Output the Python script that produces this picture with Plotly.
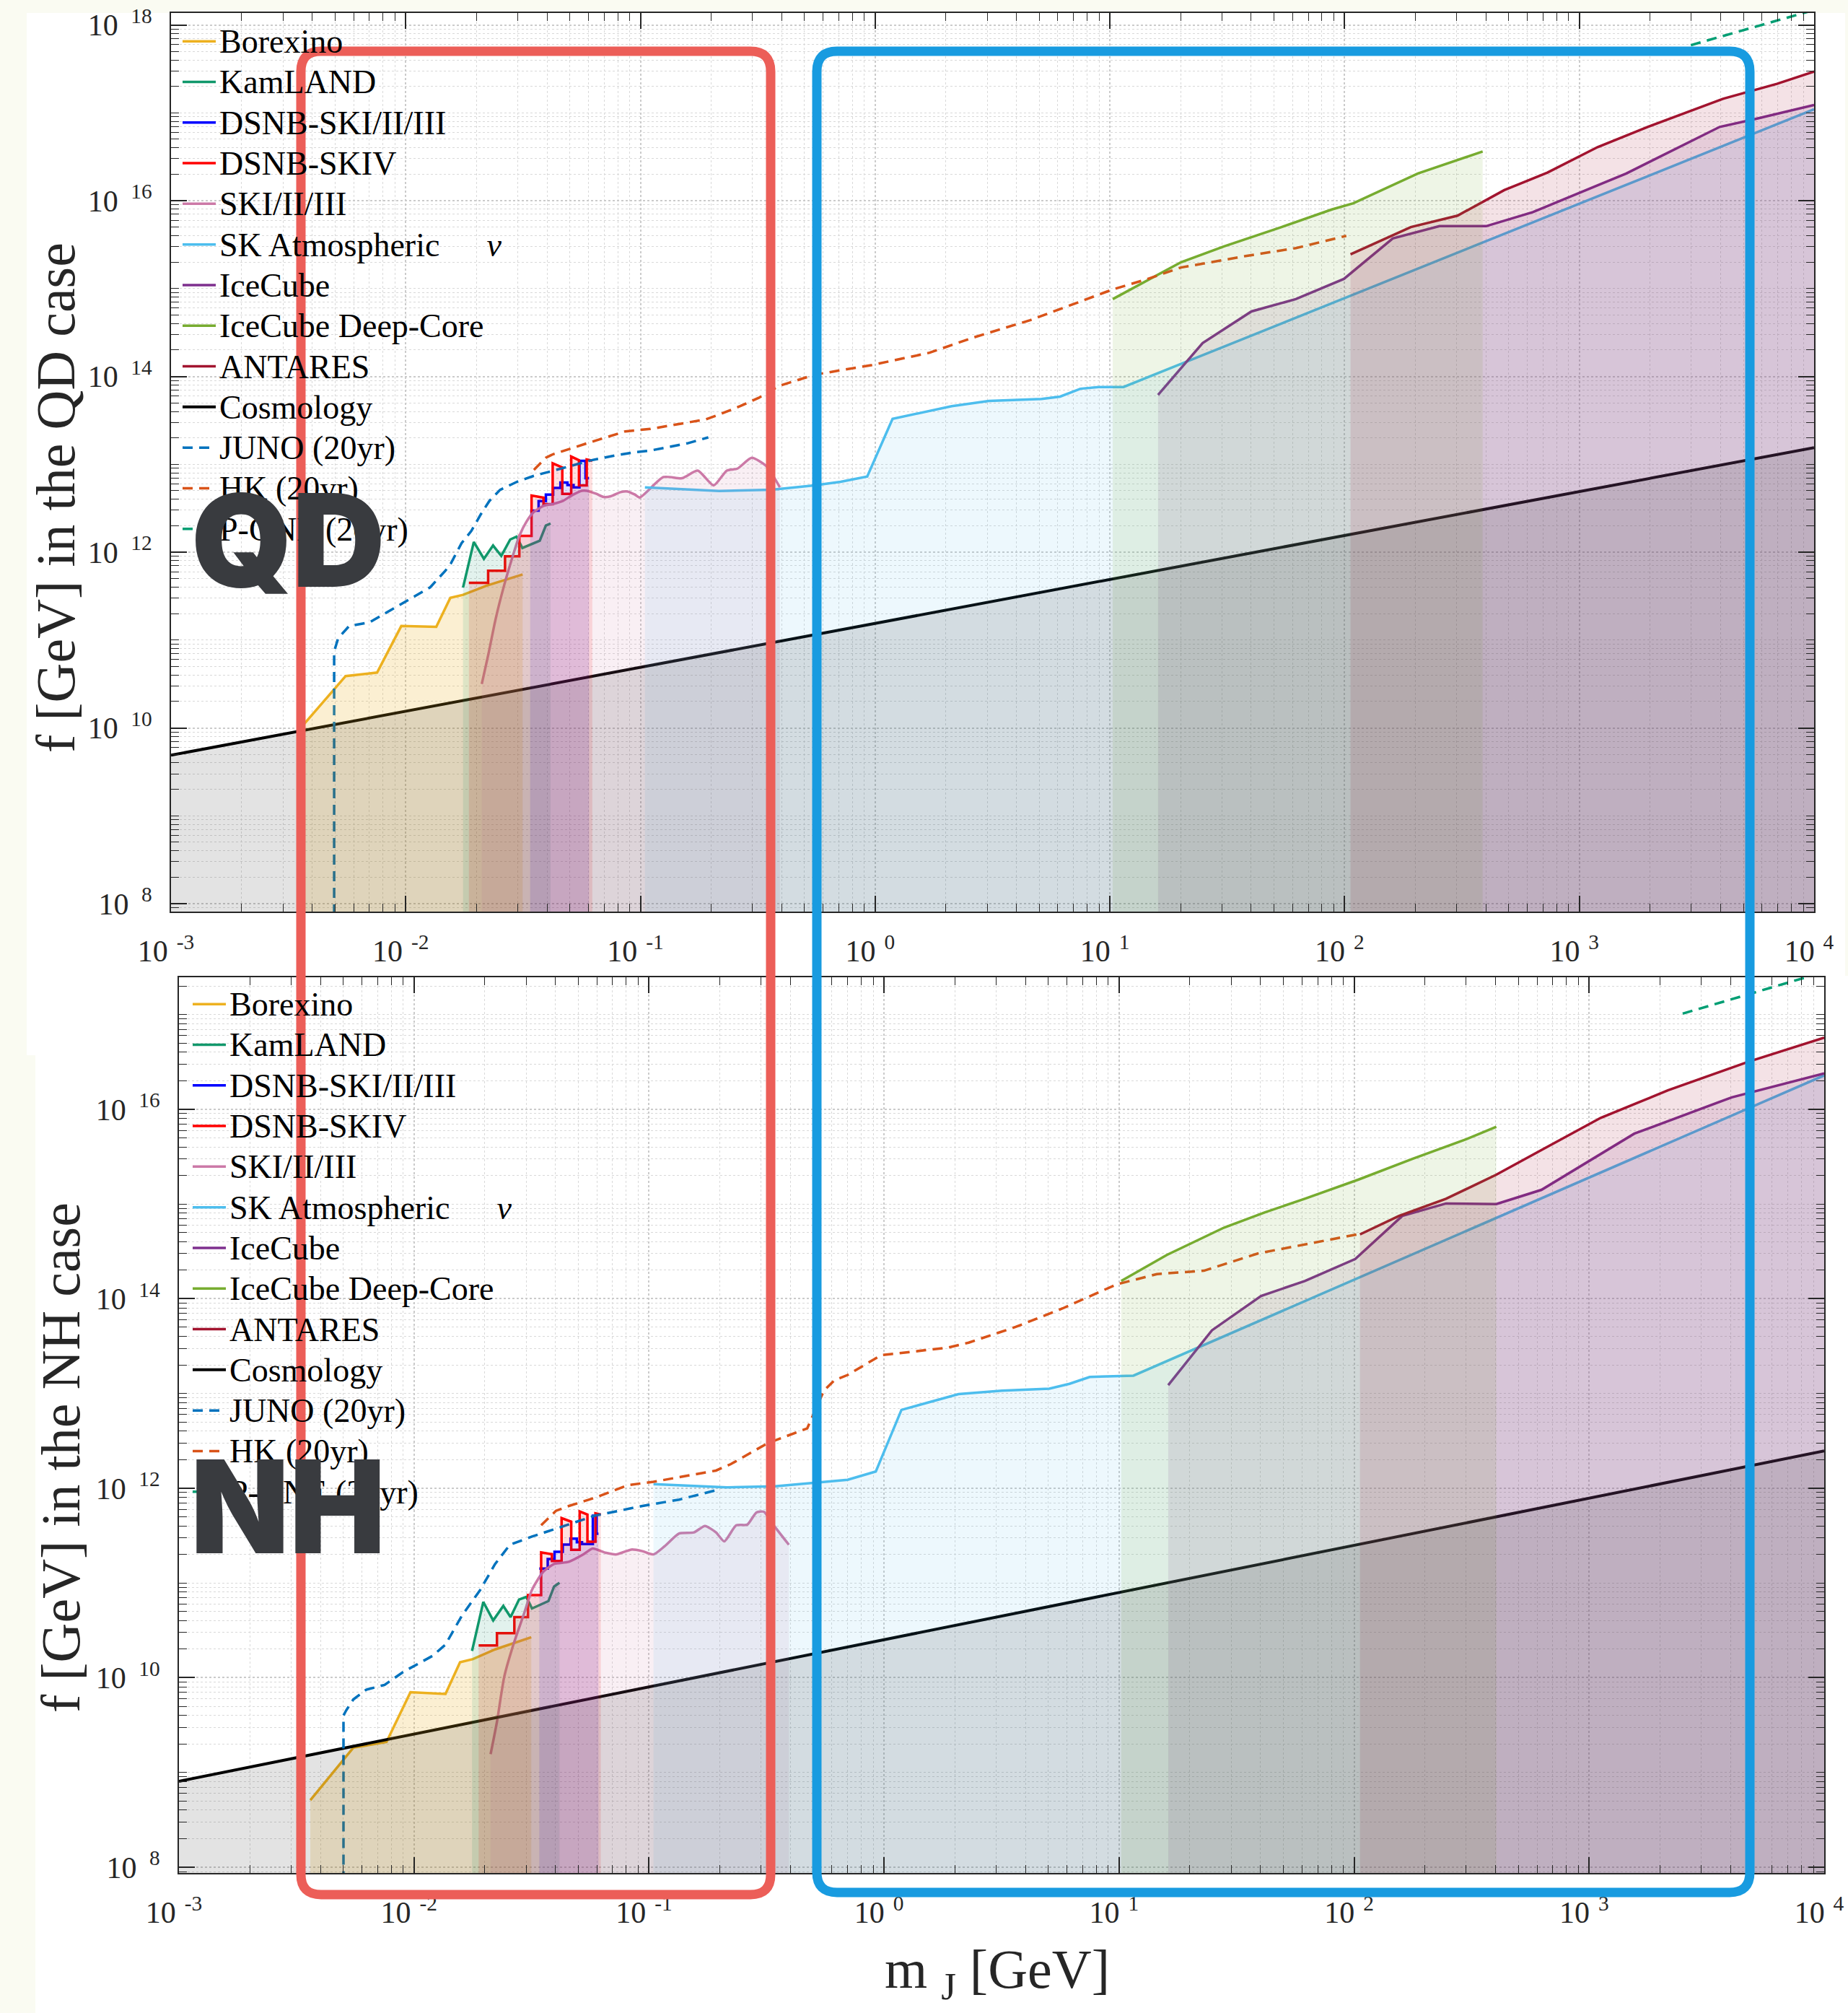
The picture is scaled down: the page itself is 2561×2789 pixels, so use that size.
import numpy as np
import plotly.graph_objects as go

# ---------------------------------------------------------------------------
# Data: log10(m_J / GeV) and log10(f / GeV)
# ---------------------------------------------------------------------------
# ---- QD case (upper panel) ----
qd_borexino_lm = [-2.441, -2.256, -2.122, -2.019, -1.870, -1.810, -1.756, -1.655, -1.502]
qd_borexino_lf = [10.02, 10.59, 10.63, 11.16, 11.15, 11.48, 11.515, 11.62, 11.747]

qd_kamland_lm = [-1.756, -1.710, -1.667, -1.628, -1.593, -1.555, -1.528, -1.503, -1.429, -1.403, -1.383]
qd_kamland_lf = [11.597, 12.117, 11.925, 12.076, 11.958, 12.144, 12.177, 12.048, 12.130, 12.303, 12.327]

qd_dsnb123_lm = [-1.470, -1.434, -1.434, -1.403, -1.403, -1.372, -1.372, -1.341, -1.341, -1.311,
                 -1.311, -1.285, -1.285, -1.260, -1.260, -1.234, -1.234, -1.219]
qd_dsnb123_lf = [12.472, 12.472, 12.582, 12.582, 12.656, 12.656, 12.732, 12.732, 12.792, 12.792,
                 12.765, 12.765, 12.738, 12.738, 13.039, 13.039, 12.842, 12.842]

qd_dsnb4_lm = [-1.731, -1.649, -1.649, -1.577, -1.577, -1.516, -1.516, -1.464, -1.464, -1.413, -1.413,
               -1.374, -1.374, -1.333, -1.333, -1.295, -1.295, -1.262, -1.262, -1.229, -1.229, -1.205]
qd_dsnb4_lf = [11.652, 11.652, 11.789, 11.789, 11.953, 11.953, 12.185, 12.185, 12.645, 12.620, 12.546,
               12.546, 13.011, 12.965, 12.664, 12.664, 13.088, 13.047, 12.760, 12.760, 13.055, 13.041]

qd_ski_lm = [-1.676, -1.647, -1.618, -1.582, -1.546, -1.516, -1.485, -1.454, -1.413, -1.372,
             -1.331, -1.290, -1.250, -1.229, -1.188, -1.157, -1.126, -1.085, -1.055, -1.024,
             -1.003, -0.902, -0.823, -0.756, -0.688, -0.632, -0.587, -0.526, -0.463, -0.406]
qd_ski_lf = [10.50, 10.85, 11.228, 11.611, 11.939, 12.185, 12.350, 12.459, 12.527, 12.549,
             12.582, 12.650, 12.699, 12.699, 12.664, 12.628, 12.637, 12.683, 12.691, 12.656,
             12.623, 12.855, 12.842, 12.929, 12.760, 12.929, 12.951, 13.074, 12.978, 12.738]

qd_skatm_lm = [-0.981, -0.665, -0.440, -0.260, -0.147, -0.034, 0.074, 0.326, 0.484, 0.709, 0.788,
               0.874, 0.951, 1.058, 4.0]
qd_skatm_lf = [12.738, 12.696, 12.710, 12.760, 12.801, 12.861, 13.517, 13.662, 13.722, 13.744, 13.771,
               13.86, 13.88, 13.88, 17.04]

qd_icecube_lm = [1.205, 1.395, 1.603, 1.792, 1.997, 2.205, 2.404, 2.603, 2.802, 3.2, 3.598, 3.751, 4.0]
qd_icecube_lf = [13.79, 14.38, 14.74, 14.88, 15.11, 15.57, 15.71, 15.71, 15.87, 16.31, 16.84, 16.93, 17.09]

qd_deepcore_lm = [1.012, 1.150, 1.303, 1.486, 1.731, 1.945, 2.037, 2.312, 2.588]
qd_deepcore_lf = [14.88, 15.08, 15.30, 15.48, 15.70, 15.90, 15.97, 16.31, 16.56]

qd_antares_lm = [2.025, 2.282, 2.481, 2.68, 2.864, 3.078, 3.291, 3.612, 3.842, 4.0]
qd_antares_lf = [15.39, 15.70, 15.83, 16.12, 16.32, 16.61, 16.84, 17.16, 17.33, 17.47]

qd_cosmo_lm = [-3.0, 4.0]
qd_cosmo_lf = [9.69, 13.19]

qd_juno_lm = [-2.305, -2.305, -2.288, -2.241, -2.155, -2.025, -1.896, -1.831, -1.808, -1.762, -1.721,
              -1.680, -1.644, -1.598, -1.526, -1.454, -1.383, -1.301, -1.208, -1.106, -1.024, -0.959,
              -0.801, -0.711]
qd_juno_lf = [7.5, 10.87, 11.02, 11.16, 11.20, 11.40, 11.60, 11.79, 11.871, 12.103, 12.240,
              12.432, 12.582, 12.710, 12.801, 12.869, 12.918, 12.978, 13.047, 13.101, 13.137, 13.156,
              13.238, 13.306]

qd_hk_lm = [-1.454, -1.403, -1.372, -1.311, -1.229, -1.147, -1.065, -0.959, -0.722, -0.665, -0.575,
            -0.496, -0.411, -0.258, -0.013, 0.232, 0.415, 0.660, 1.012, 1.150, 1.303, 1.578, 1.792, 2.007]
qd_hk_lf = [12.937, 13.074, 13.115, 13.170, 13.238, 13.306, 13.375, 13.402, 13.511, 13.566, 13.662,
            13.757, 13.89, 14.02, 14.13, 14.27, 14.44, 14.64, 14.99, 15.10, 15.24, 15.37, 15.46, 15.60]

qd_pone_lm = [3.475, 4.0]
qd_pone_lf = [17.77, 18.17]

# ---- NH case (lower panel) ----
nh_borexino_lm = [-2.441, -2.258, -2.117, -2.015, -1.866, -1.804, -1.749, -1.655, -1.501]
nh_borexino_lf = [8.707, 9.262, 9.322, 9.847, 9.829, 10.163, 10.197, 10.299, 10.428]

nh_kamland_lm = [-1.753, -1.705, -1.663, -1.620, -1.589, -1.553, -1.522, -1.498, -1.428, -1.404, -1.381]
nh_kamland_lf = [10.282, 10.800, 10.605, 10.758, 10.640, 10.826, 10.853, 10.731, 10.809, 10.962, 11.003]

nh_dsnb123_lm = [-1.467, -1.431, -1.431, -1.402, -1.402, -1.367, -1.367, -1.334, -1.334, -1.307,
                 -1.307, -1.285, -1.285, -1.239, -1.239, -1.223, -1.223, -1.215]
nh_dsnb123_lf = [11.152, 11.152, 11.253, 11.253, 11.329, 11.329, 11.406, 11.406, 11.469, 11.469,
                 11.431, 11.431, 11.411, 11.411, 11.710, 11.710, 11.520, 11.520]

nh_dsnb4_lm = [-1.725, -1.647, -1.647, -1.573, -1.573, -1.515, -1.515, -1.459, -1.459, -1.413, -1.413,
               -1.372, -1.372, -1.331, -1.331, -1.295, -1.295, -1.262, -1.262, -1.228, -1.228, -1.205]
nh_dsnb4_lf = [10.340, 10.340, 10.470, 10.470, 10.640, 10.640, 10.872, 10.872, 11.324, 11.304, 11.233,
               11.233, 11.685, 11.647, 11.350, 11.350, 11.756, 11.723, 11.436, 11.436, 11.736, 11.723]

nh_ski_lm = [-1.674, -1.647, -1.616, -1.577, -1.530, -1.498, -1.451, -1.404, -1.341, -1.279,
             -1.240, -1.185, -1.138, -1.075, -1.028, -0.981, -0.934, -0.872, -0.809, -0.762,
             -0.715, -0.680, -0.629, -0.582, -0.543, -0.511, -0.480, -0.405]
nh_ski_lf = [9.193, 9.534, 10.010, 10.350, 10.690, 10.928, 11.116, 11.200, 11.224, 11.302,
             11.364, 11.320, 11.302, 11.353, 11.336, 11.302, 11.387, 11.523, 11.534, 11.602,
             11.534, 11.439, 11.609, 11.616, 11.745, 11.752, 11.643, 11.404]

nh_skatm_lm = [-0.981, -0.668, -0.464, -0.155, -0.035, 0.074, 0.317, 0.502, 0.703, 0.789, 0.875, 1.061, 4.0]
nh_skatm_lf = [12.044, 12.010, 12.02, 12.090, 12.177, 12.827, 12.994, 13.030, 13.051, 13.103, 13.175,
               13.189, 16.358]

nh_icecube_lm = [1.209, 1.395, 1.604, 1.790, 2.005, 2.205, 2.391, 2.605, 2.797, 3.192, 3.607, 4.0]
nh_icecube_lf = [13.088, 13.667, 14.029, 14.188, 14.420, 14.875, 15.006, 15.0, 15.150, 15.743, 16.127, 16.38]

nh_deepcore_lm = [1.009, 1.203, 1.447, 1.619, 1.790, 2.019, 2.248, 2.477, 2.605]
nh_deepcore_lf = [14.188, 14.463, 14.752, 14.911, 15.056, 15.259, 15.476, 15.685, 15.816]

nh_antares_lm = [2.025, 2.191, 2.391, 2.605, 2.792, 3.049, 3.335, 3.679, 4.0]
nh_antares_lf = [14.680, 14.875, 15.056, 15.310, 15.563, 15.910, 16.200, 16.504, 16.757]

nh_cosmo_lm = [-3.0, 4.0]
nh_cosmo_lf = [8.907, 12.394]

nh_juno_lm = [-2.300, -2.300, -2.289, -2.258, -2.203, -2.125, -2.046, -1.921, -1.866, -1.796, -1.718,
              -1.655, -1.592, -1.498, -1.373, -1.232, -1.028, -0.872, -0.699]
nh_juno_lf = [7.5, 9.601, 9.653, 9.771, 9.874, 9.925, 10.061, 10.231, 10.350, 10.656, 10.928,
              11.200, 11.404, 11.490, 11.592, 11.710, 11.813, 11.880, 11.989]

nh_hk_lm = [-1.459, -1.396, -1.341, -1.232, -1.088, -0.981, -0.715, -0.652, -0.495, -0.384, -0.327,
            -0.256, -0.212, -0.155, -0.012, 0.074, 0.274, 0.360, 0.560, 0.760, 0.989, 1.161, 1.361,
            1.590, 1.790, 2.013]
nh_hk_lf = [11.610, 11.762, 11.813, 11.898, 12.034, 12.068, 12.187, 12.255, 12.476, 12.582, 12.632,
            13.030, 13.139, 13.196, 13.406, 13.428, 13.486, 13.537, 13.703, 13.899, 14.152, 14.261, 14.296,
            14.478, 14.572, 14.680]

nh_pone_lm = [3.398, 4.0]
nh_pone_lf = [17.01, 17.45]

# legend labels and tick labels
series_names = ["Borexino", "KamLAND", "DSNB-SKI/II/III", "DSNB-SKIV", "SKI/II/III",
                "SK Atmospheric\u00a0\u00a0\u00a0\u00a0\u00a0\u2006<i>\u03bd</i>", "IceCube",
                "IceCube Deep-Core", "ANTARES", "Cosmology", "JUNO (20yr)", "HK (20yr)", "P-ONE (20yr)"]
x_tick_exponents = [-3, -2, -1, 0, 1, 2, 3, 4]
qd_y_tick_exponents = [8, 10, 12, 14, 16, 18]
nh_y_tick_exponents = [8, 10, 12, 14, 16]

# ---------------------------------------------------------------------------
# Styles
# ---------------------------------------------------------------------------
W, H = 2561, 2789
series_colors = ["#EDB120", "#11986B", "#0000FF", "#FF0000", "#CC79A7", "#4DBEEE", "#7E2F8E",
                 "#77AC30", "#A2142F", "#000000", "#0072BD", "#D95319", "#009E73"]
series_dash = ["solid"] * 10 + ["14px,9px"] * 3
series_fill_alpha = [0.2, 0.12, 0.12, 0.12, 0.12, 0.1, 0.12, 0.12, 0.12, 0.11, None, None, None]
FLOOR = 1e6


def px(v):
    return v / W


def py(v):
    return 1 - v / H


def rgba(hexc, a):
    h = hexc.lstrip("#")
    r, g, b = int(h[0:2], 16), int(h[2:4], 16), int(h[4:6], 16)
    return f"rgba({r},{g},{b},{a})"


def legend_label(s):
    # glyphs a bit larger than the row pitch implies, as in the original legend
    return f'<span style="font-size:46px">{s}</span>'


panels = [
    dict(xa="x", ya="y", legend="legend", data=[
        (qd_borexino_lm, qd_borexino_lf), (qd_kamland_lm, qd_kamland_lf),
        (qd_dsnb123_lm, qd_dsnb123_lf), (qd_dsnb4_lm, qd_dsnb4_lf), (qd_ski_lm, qd_ski_lf),
        (qd_skatm_lm, qd_skatm_lf), (qd_icecube_lm, qd_icecube_lf), (qd_deepcore_lm, qd_deepcore_lf),
        (qd_antares_lm, qd_antares_lf), (qd_cosmo_lm, qd_cosmo_lf), (qd_juno_lm, qd_juno_lf),
        (qd_hk_lm, qd_hk_lf), (qd_pone_lm, qd_pone_lf)]),
    dict(xa="x2", ya="y2", legend="legend2", data=[
        (nh_borexino_lm, nh_borexino_lf), (nh_kamland_lm, nh_kamland_lf),
        (nh_dsnb123_lm, nh_dsnb123_lf), (nh_dsnb4_lm, nh_dsnb4_lf), (nh_ski_lm, nh_ski_lf),
        (nh_skatm_lm, nh_skatm_lf), (nh_icecube_lm, nh_icecube_lf), (nh_deepcore_lm, nh_deepcore_lf),
        (nh_antares_lm, nh_antares_lf), (nh_cosmo_lm, nh_cosmo_lf), (nh_juno_lm, nh_juno_lf),
        (nh_hk_lm, nh_hk_lf), (nh_pone_lm, nh_pone_lf)]),
]

fig = go.Figure()
for p in panels:
    # lines (legend order)
    for i, (lm, lf) in enumerate(p["data"]):
        x = np.power(10.0, np.array(lm))
        y = np.power(10.0, np.array(lf))
        line = dict(color=series_colors[i], width=4 if i == 9 else 3.5, dash=series_dash[i])
        if i == 4:
            line.update(shape="spline", smoothing=0.6)
        fig.add_trace(go.Scatter(
            x=x, y=y, mode="lines", name=legend_label(series_names[i]), line=line,
            xaxis=p["xa"], yaxis=p["ya"], legend=p["legend"], hoverinfo="skip"))
    # translucent regions drawn over the lines, as in the original
    for i, (lm, lf) in enumerate(p["data"]):
        if series_fill_alpha[i] is None:
            continue
        x = np.power(10.0, np.array(lm))
        y = np.power(10.0, np.array(lf))
        fx = np.concatenate([[x[0]], x, [x[-1]]])
        fy = np.concatenate([[FLOOR], y, [FLOOR]])
        fig.add_trace(go.Scatter(
            x=fx, y=fy, mode="lines", fill="toself",
            fillcolor=rgba(series_colors[i], series_fill_alpha[i]),
            line=dict(width=0, color="rgba(0,0,0,0)"), showlegend=False,
            xaxis=p["xa"], yaxis=p["ya"], hoverinfo="skip"))

# ---------------------------------------------------------------------------
# Axes
# ---------------------------------------------------------------------------
AX_COLOR = "#262626"
tick_font = dict(family="Liberation Serif", size=42, color=AX_COLOR)


def x_label(e):
    return f"10\u2009\u200a<sup>{e}</sup>"


def y_label(e):
    return f"10\u00a0\u2006<sup>{e}</sup>"


def axis_common():
    return dict(type="log", showline=True, linecolor=AX_COLOR, linewidth=2, mirror="allticks",
                ticks="inside", ticklen=22, tickwidth=1.6, tickcolor=AX_COLOR,
                showgrid=True, gridcolor="#cbcbcb", griddash="dot", gridwidth=1.5,
                zeroline=False, tickfont=tick_font, automargin=False, layer="above traces",
                ticklabeloverflow="allow")


x_major = [10.0 ** e for e in x_tick_exponents]
x_minor = [k * 10.0 ** e for e in range(-3, 4) for k in range(2, 10)]


def y_minor(lo, hi, majors):
    return [k * 10.0 ** e for e in range(lo, hi) for k in range(1, 10) if not (k == 1 and e in majors)]


minor_style = dict(ticks="inside", ticklen=11, tickwidth=1.4, tickcolor=AX_COLOR,
                   showgrid=True, gridcolor="#d9d9d9", griddash="dot", gridwidth=1.2)

fig.update_layout(
    template="none",
    xaxis=dict(**axis_common(), domain=[px(237), px(2514)], range=[-3, 4], anchor="y",
               tickvals=x_major, ticktext=[x_label(e) for e in x_tick_exponents],
               ticklabelstandoff=17, ticklabelshift=-7, minor=dict(tickvals=x_minor, **minor_style)),
    yaxis=dict(**axis_common(), domain=[py(1263), py(18)], range=[7.91, 18.136], anchor="x",
               tickvals=[10.0 ** e for e in qd_y_tick_exponents],
               ticktext=[y_label(e) for e in qd_y_tick_exponents], ticklabelstandoff=16,
               minor=dict(tickvals=y_minor(7, 19, qd_y_tick_exponents), **minor_style)),
    xaxis2=dict(**axis_common(), domain=[px(248), px(2528)], range=[-3, 4], anchor="y2",
                tickvals=x_major, ticktext=[x_label(e) for e in x_tick_exponents],
                ticklabelstandoff=17, ticklabelshift=-7, minor=dict(tickvals=x_minor, **minor_style)),
    yaxis2=dict(**axis_common(), domain=[py(2595), py(1354)], range=[7.939, 17.394], anchor="x2",
                tickvals=[10.0 ** e for e in nh_y_tick_exponents],
                ticktext=[y_label(e) for e in nh_y_tick_exponents], ticklabelstandoff=16,
                minor=dict(tickvals=y_minor(7, 18, nh_y_tick_exponents), **minor_style)),
)

legend_style = dict(xanchor="left", yanchor="top", bgcolor="rgba(0,0,0,0)", borderwidth=0,
                    font=dict(family="Liberation Serif", size=41, color="#000000"),
                    itemwidth=46, tracegroupgap=0)
fig.update_layout(
    width=W, height=H, autosize=False,
    margin=dict(l=0, r=0, t=0, b=0, pad=0, autoexpand=False),
    paper_bgcolor="#fafbf2", plot_bgcolor="rgba(0,0,0,0)",
    font=dict(family="Liberation Serif", color=AX_COLOR),
    showlegend=True,
    legend=dict(x=px(248), y=py(24), **legend_style),
    legend2=dict(x=px(262), y=py(1358), **legend_style),
)

# ---------------------------------------------------------------------------
# Background panels, highlight boxes, titles
# ---------------------------------------------------------------------------
shapes = [
    dict(type="rect", xref="paper", yref="paper", x0=px(37), x1=px(2557), y0=py(1462), y1=py(18),
         fillcolor="white", line=dict(width=0), layer="below"),
    dict(type="rect", xref="paper", yref="paper", x0=px(49), x1=1.0, y0=0.0, y1=py(1352),
         fillcolor="white", line=dict(width=0), layer="below"),
]


def rounded_box(x0, y0, x1, y1, r):
    a, b, c, d = px(x0), py(y0), px(x1), py(y1)
    rx, ry = r / W, r / H
    return (f"M {a + rx},{b} L {c - rx},{b} Q {c},{b} {c},{b - ry} L {c},{d + ry} "
            f"Q {c},{d} {c - rx},{d} L {a + rx},{d} Q {a},{d} {a},{d + ry} L {a},{b - ry} "
            f"Q {a},{b} {a + rx},{b} Z")


shapes.append(dict(type="path", xref="paper", yref="paper", path=rounded_box(417, 71, 1068, 2625, 28),
                   line=dict(color="rgb(236,94,88)", width=13), layer="above"))
shapes.append(dict(type="path", xref="paper", yref="paper", path=rounded_box(1132, 71, 2425, 2622, 28),
                   line=dict(color="rgb(24,155,224)", width=13), layer="above"))
fig.update_layout(shapes=shapes)

title_font = dict(family="Liberation Serif", size=76, color=AX_COLOR)
big_font = dict(family="Inter", size=178, color="#393b3f", weight=900)
annotations = [
    dict(text="f [GeV] in the QD case", x=px(77), y=py(690), textangle=-90, font=title_font),
    dict(text="f [GeV] in the NH case", x=px(84), y=py(2020), textangle=-90, font=title_font),
    dict(text="m <sub>J</sub> [GeV]", x=px(1382), y=py(2734), font=title_font),
    dict(text="QD", x=px(399), y=py(748), font=big_font),
    dict(text="NH", x=px(399), y=py(2087), font=big_font),
]
for a in annotations:
    a.update(xref="paper", yref="paper", showarrow=False, xanchor="center", yanchor="middle")
fig.update_layout(annotations=annotations)

fig.write_html("out.html")
